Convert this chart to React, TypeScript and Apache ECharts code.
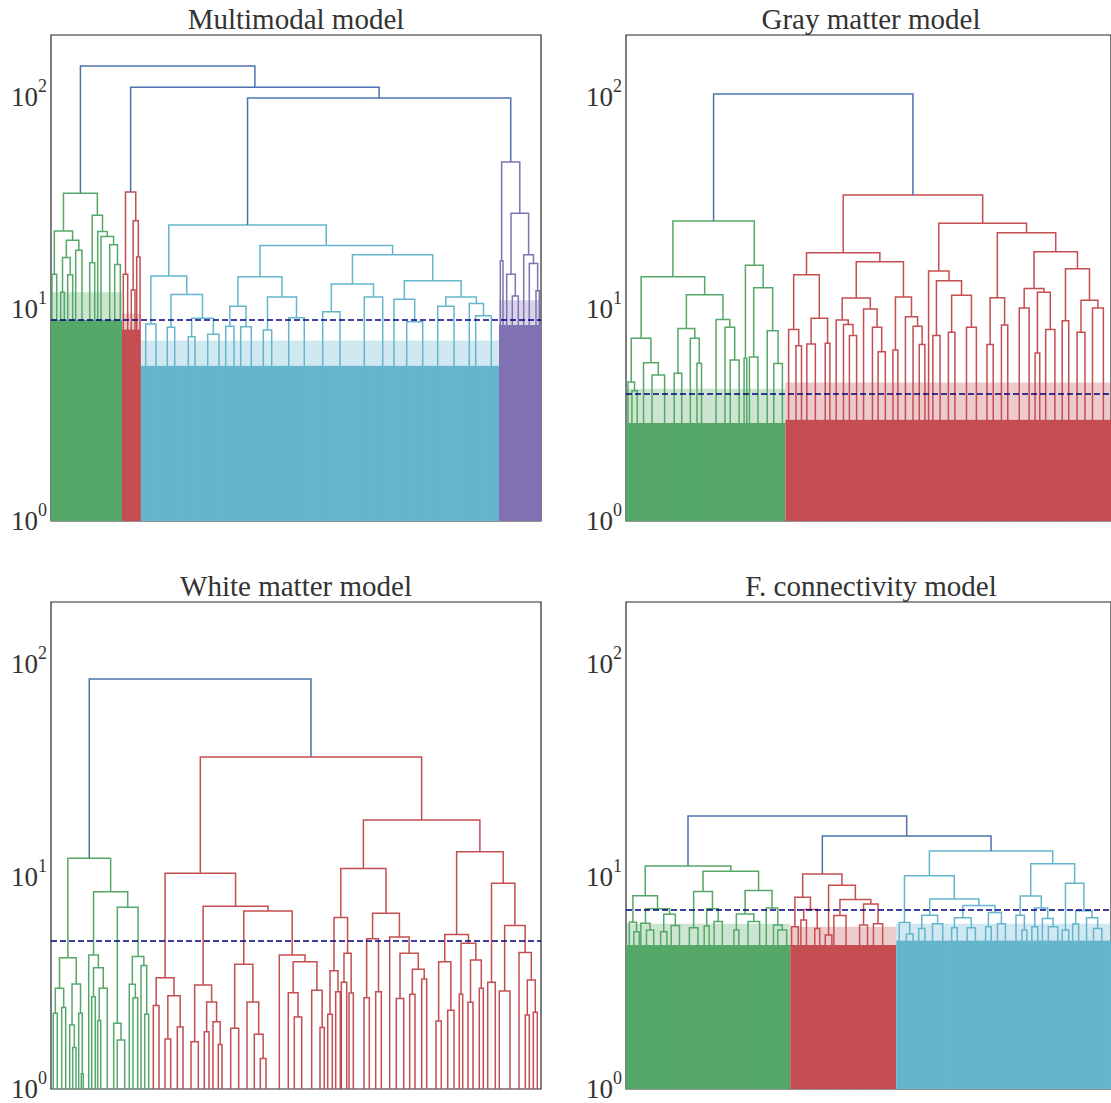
import React, { useEffect, useRef } from 'react';
import * as echarts from 'echarts';

// ---------- labels ----------
const PANEL_TITLES = ['Multimodal model', 'Gray matter model', 'White matter model', 'F. connectivity model'];
const Y_MIN = 1;
const Y_MAX = 196;
const X_SPAN = 490;
const THRESHOLDS = [8.87, 3.97, 4.97, 6.96];

// colour indices
const BLUE = 0, GREEN = 1, RED = 2, CYAN = 3, PURPLE = 4;
const PALETTE = ['#4c72b0', '#55a868', '#c44e52', '#64b5cd', '#8172b2'];

// ---------- Multimodal model (nodes: [height, left, right], leaves: leaf position) ----------
const mmGreen = [35.1,
  [23.3, [14.6, 1.0, 5.7], [21.1, [17.5, [12.0, 9.7, 13.3], [14.5, 16.7, 21.7]], [18.9, 24.7, 31]]],
  [27.7, [16.5, 38.7, 43.7], [23.2, 46.7, [22.0, 50, [20.1, 58.7, [16.2, 63.7, 69.3]]]]]];
const mmRed = [35.6, [14.6, 72.3, 76.7], [26.1, [12.3, 80.3, 84], [17.6, 85.7, 89]]];
const mmCyan = [24.9,
  [14.3, [8.5, 94.7, 105], [11.7, [8.2, 116.3, 123.7], [9.05, [7.4, 137.3, 144], [7.6, 156.7, 168]]]],
  [19.9,
    [14.2,
      [10.3, [8.3, 174.7, 183], [8.25, 189.7, 200.3]],
      [11.4, [7.96, 212.3, 220.7], [9.1, 237.7, 253.3]]],
    [18.0,
      [13.1, [9.7, 271.7, 289], [11.4, 313.3, 331.7]],
      [13.6,
        [11.1, 343, [8.7, 355.7, 371.7]],
        [11.4, [10.3, 386.7, 403], [10.6, 418.3, [9.3, 424.7, 440.3]]]]]]];
const mmPurple = [49.4, [16.9, 449.3, 452],
  [28.3, [14.6, 455.7, [11.5, 461.3, 467.3]], [18.0, 472.7, [16.4, 478.3, [12.2, 485, 488.3]]]]];
const mmTree = [140, mmGreen, [111, mmRed, [99, mmCyan, mmPurple]]];
// dense leaf regions: [x0, solid top, x1, fringe top, colour]
const mmBlocks = [[0, 8.9, 71, 12, GREEN], [71, 8.0, 89.5, 9.5, RED], [89.5, 5.4, 448, 7.1, CYAN], [448, 8.4, 490, 11, PURPLE]];

// ---------- Gray matter model ----------
const gmGreen = [26.0,
  [14.2,
    [7.28, [4.53, 2, [4.11, 6, 11.3]], [5.57, 17.7, [4.88, 26.3, 39]]],
    [11.66,
      [8.1, [4.98, 48.7, 56.3], [7.28, 65, [5.55, 71.7, 76.3]]],
      [8.93, 91, [8.2, 100, [5.75, 105.3, 114.3]]]]],
  [16.1, [5.85, 119.3, 122], [12.6, [5.93, 124.7, 133.3], [7.9, 142.7, [5.53, 149.3, 158]]]]];
const gmRed = [34.5,
  [18.4,
    [14.5,
      [8.0, 164.3, [6.7, 171.7, 177.3]],
      [9.05, [6.84, 182.7, 191.3], [6.9, 201.3, 206]]],
    [16.7,
      [11.26,
        [8.87, 212.3, [8.45, 219.7, [7.5, 225.7, 233]]],
        [10, 240, [8.2, 249, [6.28, 254.7, 262]]]],
      [11.4, [6.4, 269.7, 274.7], [9.2, 282.3, [8.3, 290, [6.8, 296.3, 302]]]]]],
  [25.4,
    [15.1, 305.7, [13.6, [7.5, 310, 317.3], [11.6, [7.77, 325.7, 332.3], [8.2, 344, 354]]]],
    [22.9,
      [11.3, [6.8, 364.7, 371], [8.4, 379.3, 385.7]],
      [18.6,
        [12.5, [10.1, 397.3, 407.3], [12.0, [6.2, 413.3, 418], [8.0, 424, 433.3]]],
        [15.5, [8.8, 440.7, 447.3], [11.0, [7.77, 455.7, 463.7], [10.1, 471.3, 482.3]]]]]]];
const gmTree = [103.3, gmGreen, gmRed];
const gmBlocks = [[0, 2.9, 161, 4.2, GREEN], [161, 3.0, 490, 4.5, RED]];

// ---------- White matter model ----------
const wmGreen = [12.2,
  [4.15,
    [2.98, [2.27, 2.3, 6.3], [2.42, 10.7, 14.7]],
    [3.12, [2.0, 18.7, [1.57, 21.7, 25]], [2.27, 27.7, [1.18, 30.3, 32.3]]]],
  [8.47,
    [4.27, 37.7, [3.72, [2.72, 40.7, 44.3], [2.98, [2.1, 46.7, 49.7], 56.3]]],
    [7.16,
      [2.04, 62.7, [1.7, 66.3, 73.7]],
      [4.2, [3.11, 78.3, [2.69, 82, 86.7]], [3.81, 90, [2.25, 93.7, 97.7]]]]]];
const wmRedLeft = [10.35,
  [3.34, [2.47, 102.3, 108], [2.75, [1.72, 114, 119.7], [1.96, 126.3, 132]]],
  [7.25,
    [3.09, [1.67, 140, 147.3], [2.57, [1.86, 153.3, 158], [2.07, 162, [1.62, 167.3, 171]]]],
    [6.88,
      [3.87, [1.93, 179.7, 187.7], [2.57, 196, [1.81, 203.3, [1.39, 209.3, 215]]]],
      [4.27, 228.3, [3.97, [2.84, 237.3, [2.18, 243.3, 250.7]], [2.92, 260.7, [1.95, 269, 273.3]]]]]]];
const wmRedRight = [18.45,
  [10.9,
    [6.41, [3.6, [2.25, 276.7, 281.3], [2.87, 284.7, 289.3]], [4.35, [3.18, 290.3, 295.7], [2.83, 298, 302.3]]],
    [6.72,
      [5.1, [2.69, 313, 318.3], [2.87, 324.7, 330.3]],
      [5.2, 338.7, [4.35, [2.67, 345.3, 352.7], [3.66, [2.79, 358.7, 364], [3.29, 370.7, 375.7]]]]]],
  [13.1,
    [5.34,
      [3.97, [2.09, 385, 390.3], [2.35, 396.7, 403]],
      [4.85, [2.79, 408.3, 411.7], [4.05, [2.56, 417, 422], [2.98, 428.3, 432.3]]]],
    [9.29,
      [3.18, 436.7, 444.3],
      [5.88, [2.89, 448.3, 459], [4.39, 468, [3.26, [2.23, 474.3, 478.3], [2.3, 482.3, 486.3]]]]]]];
const wmRed = [36.5, wmRedLeft, wmRedRight];
const wmTree = [85, wmGreen, wmRed];
const wmBlocks: number[][] = [];

// ---------- F. connectivity model ----------
const fcGreen = [11.2,
  [8.13,
    [6.09, 3.3, [5.5, 8, 13.3]],
    [7.05, [6.02, 15, [5.6, 20.7, 28]], [6.65, [5.5, 35, 41.3], [5.89, 45.7, 54]]]],
  [10.6,
    [8.5, [5.74, 64, 72.7], [7.05, [5.85, 79, 84], [6.15, 89, 97.3]]],
    [8.6, [6.67, [5.6, 109, 114], [6.15, 123.3, 135]], [7.12, 141.7, [5.91, 149, [5.6, 153.3, 162.3]]]]]];
const fcRed = [10.27,
  [8.0, [5.8, 167.3, 174], [7.0, [6.24, 176.7, 182.3], [5.7, 190.7, 195.7]]],
  [9.1, [5.3, 201.3, 208], [7.8, [6.56, 210, 222.3], [7.42, [5.91, 236, 244], [6.0, 250, 259.3]]]]];
const fcCyan = [13.2,
  [10.1,
    [6.07, 276, [5.36, 283.3, 290]],
    [7.84,
      [6.58, [5.7, 295.7, 302], [6.0, 309.7, 320]],
      [7.3, [6.4, [5.74, 329, 334.7], [5.74, 344.7, 353]], [6.77, [5.8, 363.3, 369], [6.0, 375.3, 383.3]]]]],
  [11.5,
    [8.1, [6.58, 394, [5.6, 400, 405]], [7.12, [5.8, 410, 416], [6.35, 420.7, [5.8, 426.7, 436.3]]]],
    [9.29, [5.6, 440.7, 447.3], [6.9, [5.98, 451.3, 457.3], [6.4, 465.3, [5.7, 472.3, 480.7]]]]]];
const fcTree = [19.3, fcGreen, [15.5, fcRed, fcCyan]];
const fcBlocks = [[0, 4.76, 166, 6.0, GREEN], [166, 4.76, 273, 5.8, RED], [273, 5.0, 490, 6.0, CYAN]];

const PANELS = [
  { tree: mmTree, clusters: [[mmGreen, GREEN], [mmRed, RED], [mmCyan, CYAN], [mmPurple, PURPLE]], blocks: mmBlocks },
  { tree: gmTree, clusters: [[gmGreen, GREEN], [gmRed, RED]], blocks: gmBlocks },
  { tree: wmTree, clusters: [[wmGreen, GREEN], [wmRed, RED]], blocks: wmBlocks },
  { tree: fcTree, clusters: [[fcGreen, GREEN], [fcRed, RED], [fcCyan, CYAN]], blocks: fcBlocks },
];

const GRIDS = [
  { left: 51, top: 35, width: 490, height: 486 },
  { left: 626, top: 35, width: 490, height: 486 },
  { left: 51, top: 602, width: 490, height: 487 },
  { left: 626, top: 602, width: 490, height: 487 },
];

const FONT = '"Liberation Serif", "DejaVu Serif", serif';
const TEXT_COLOR = '#333333';

function flatten(node: any, color: number, clusterMap: Map<any, number>, out: number[][]): { x: number; h: number } {
  if (typeof node === 'number') return { x: node, h: Y_MIN };
  const c = clusterMap.has(node) ? (clusterMap.get(node) as number) : color;
  const L = flatten(node[1], c, clusterMap, out);
  const R = flatten(node[2], c, clusterMap, out);
  out.push([L.x, L.h, R.x, R.h, node[0], c]);
  return { x: (L.x + R.x) / 2, h: node[0] };
}

function buildOption() {
  const series: any[] = [];
  const xAxis: any[] = [];
  const yAxis: any[] = [];
  const grid: any[] = [];
  PANELS.forEach((p, i) => {
    grid.push({ ...GRIDS[i], show: true, borderColor: '#262626', borderWidth: 1.2, backgroundColor: 'transparent' });
    xAxis.push({ type: 'value', gridIndex: i, min: 0, max: X_SPAN, show: false });
    yAxis.push({
      type: 'log', logBase: 10, gridIndex: i, min: Y_MIN, max: Y_MAX,
      axisLine: { show: false }, axisTick: { show: false }, splitLine: { show: false },
      axisLabel: {
        margin: 4,
        showMaxLabel: false,
        formatter: (v: number) => {
          const e = Math.log10(v);
          const r = Math.round(e);
          if (Math.abs(e - r) > 1e-6) return '';
          return `{b|10}{s|${r}}`;
        },
        rich: {
          b: { fontFamily: FONT, fontSize: 27, color: TEXT_COLOR, lineHeight: 40 },
          s: { fontFamily: FONT, fontSize: 18, color: TEXT_COLOR, lineHeight: 18, verticalAlign: 'top' },
        },
      },
    });
    const map = new Map<any, number>();
    p.clusters.forEach(([node, c]: any) => map.set(node, c));
    const links: number[][] = [];
    flatten(p.tree, BLUE, map, links);

    series.push({
      type: 'custom', xAxisIndex: i, yAxisIndex: i, silent: true, z: 1,
      data: p.blocks,
      renderItem: (params: any, api: any) => {
        const x0 = api.value(0), s = api.value(1), x1 = api.value(2), f = api.value(3), c = api.value(4);
        const a = api.coord([x0, Y_MIN]);
        const b = api.coord([x1, s]);
        const d = api.coord([x1, f]);
        return {
          type: 'group',
          children: [
            { type: 'rect', shape: { x: a[0], y: b[1], width: b[0] - a[0], height: a[1] - b[1] }, style: { fill: PALETTE[c] } },
            { type: 'rect', shape: { x: a[0], y: d[1], width: b[0] - a[0], height: b[1] - d[1] }, style: { fill: PALETTE[c], opacity: 0.3 } },
          ],
        };
      },
    });
    series.push({
      type: 'custom', xAxisIndex: i, yAxisIndex: i, silent: true, z: 2,
      data: links,
      renderItem: (params: any, api: any) => {
        const p1 = api.coord([api.value(0), api.value(1)]);
        const p2 = api.coord([api.value(0), api.value(4)]);
        const p3 = api.coord([api.value(2), api.value(4)]);
        const p4 = api.coord([api.value(2), api.value(3)]);
        return {
          type: 'polyline',
          shape: { points: [p1, p2, p3, p4] },
          style: { stroke: PALETTE[api.value(5)], fill: 'none', lineWidth: 1.5 },
        };
      },
    });
    series.push({
      type: 'line', xAxisIndex: i, yAxisIndex: i, silent: true, z: 5,
      data: [[0, THRESHOLDS[i]], [X_SPAN, THRESHOLDS[i]]],
      showSymbol: false, symbol: 'none',
      lineStyle: { color: '#000080', width: 1.5, type: [6, 3] },
    });
  });

  const titleY = [19, 586];
  const graphic = PANEL_TITLES.map((t, i) => ({
    type: 'text',
    x: GRIDS[i].left + GRIDS[i].width / 2,
    y: titleY[i < 2 ? 0 : 1],
    style: {
      text: t, font: `29px ${FONT}`, fill: TEXT_COLOR,
      textAlign: 'center', textVerticalAlign: 'middle', align: 'center', verticalAlign: 'middle',
    },
  }));

  return { animation: false, backgroundColor: '#ffffff', grid, xAxis, yAxis, series, graphic };
}

export default function App() {
  const ref = useRef<HTMLDivElement>(null);
  useEffect(() => {
    if (!ref.current) return;
    const chart = echarts.init(ref.current, undefined, { renderer: 'svg' });
    chart.setOption(buildOption() as any);
    return () => chart.dispose();
  }, []);
  return (
    <div
      ref={ref}
      style={{ position: 'fixed', left: 0, top: 0, width: 1111, height: 1103, overflow: 'hidden', background: '#fff' }}
    />
  );
}
